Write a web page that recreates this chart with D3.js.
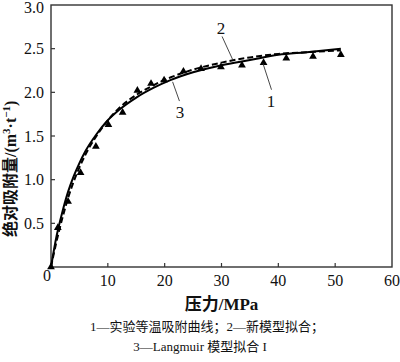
<!DOCTYPE html>
<html>
<head>
<meta charset="utf-8">
<script src="https://cdn.jsdelivr.net/npm/d3@7"></script>
<style>
  body { margin: 0; background: #fff; }
  svg { display: block; }
  text { font-family: "Liberation Serif", "Noto Sans CJK SC", serif; fill: #111; }
</style>
</head>
<body>
<script>
// experimental isotherm (triangles)
const expP = [0, 1.2, 3.0, 5.2, 7.9, 10.1, 12.6, 15.2, 17.6, 19.9, 23.3, 26.4, 29.9, 33.6, 37.4, 41.4, 46.1, 51];
const expV = [0, 0.45, 0.75, 1.08, 1.38, 1.63, 1.77, 2.02, 2.10, 2.14, 2.24, 2.27, 2.29, 2.31, 2.34, 2.39, 2.41, 2.43];

// fitted curves
const fitP = [0, 1, 2, 3, 4, 5, 6, 8, 10, 12, 15, 18, 21, 25, 30, 35, 40, 45, 51];
const newV = [0, 0.30, 0.56, 0.79, 0.98, 1.14, 1.28, 1.50, 1.68, 1.82, 1.97, 2.08, 2.17, 2.26, 2.34, 2.40, 2.44, 2.46, 2.48];
const langV = [0, 0.36, 0.63, 0.86, 1.04, 1.19, 1.32, 1.52, 1.68, 1.80, 1.94, 2.05, 2.14, 2.23, 2.31, 2.37, 2.43, 2.46, 2.50];

const xTicks = [10, 20, 30, 40, 50, 60];
const yTicks = [0.5, 1.0, 1.5, 2.0, 2.5, 3.0];

// curve labels: [text, labelX, labelY, lineFromX, lineFromY, lineToX, lineToY] in data units
const labels = [
  ["2", 29.9, 2.74, 30.1, 2.64, 32.0, 2.37],
  ["1", 38.7, 1.90, 38.8, 2.03, 37.3, 2.33],
  ["3", 22.7, 1.78, 22.6, 1.90, 21.4, 2.12]
];

const W = 400, H = 362;
const m = { left: 51, top: 5, right: 8, bottom: 95 };

const svg = d3.select("body").append("svg").attr("width", W).attr("height", H);

const x = d3.scaleLinear().domain([0, 60]).range([m.left, W - m.right]);
const y = d3.scaleLinear().domain([0, 3]).range([H - m.bottom, m.top]);

// frame
svg.append("rect")
  .attr("x", x(0)).attr("y", y(3))
  .attr("width", x(60) - x(0)).attr("height", y(0) - y(3))
  .attr("fill", "none").attr("stroke", "#333").attr("stroke-width", 1.4);

// inward ticks
svg.selectAll(".xt").data(xTicks.slice(0, -1)).enter().append("line")
  .attr("x1", d => x(d)).attr("x2", d => x(d))
  .attr("y1", y(0)).attr("y2", y(0) - 4)
  .attr("stroke", "#333").attr("stroke-width", 1.2);
svg.selectAll(".yt").data(yTicks.slice(0, -1)).enter().append("line")
  .attr("x1", x(0)).attr("x2", x(0) + 4)
  .attr("y1", d => y(d)).attr("y2", d => y(d))
  .attr("stroke", "#333").attr("stroke-width", 1.2);

// tick labels
svg.selectAll(".xl").data(xTicks).enter().append("text")
  .attr("x", d => x(d)).attr("y", y(0) + 19)
  .attr("text-anchor", "middle").style("font-size", "16px")
  .text(d => d);
svg.append("text")
  .attr("x", x(0) - 4).attr("y", y(0) + 14)
  .attr("text-anchor", "middle").style("font-size", "16px")
  .text("0");
// top label sits a little lower so it is not cut by the edge
svg.selectAll(".yl").data(yTicks).enter().append("text")
  .attr("x", x(0) - 7).attr("y", d => Math.max(y(d) + 5.5, 13))
  .attr("text-anchor", "end").style("font-size", "16px")
  .text(d => d.toFixed(1));

// lines
const line = d3.line().curve(d3.curveMonotoneX).x(d => x(d[0])).y(d => y(d[1]));

svg.append("path")
  .datum(fitP.map((p, i) => [p, langV[i]]))
  .attr("d", line).attr("fill", "none")
  .attr("stroke", "#000").attr("stroke-width", 2);

svg.append("path")
  .datum(fitP.map((p, i) => [p, newV[i]]))
  .attr("d", line).attr("fill", "none")
  .attr("stroke", "#000").attr("stroke-width", 2)
  .attr("stroke-dasharray", "6,3");

// triangles
svg.selectAll(".pt").data(expP.map((p, i) => [p, expV[i]])).enter().append("path")
  .attr("d", d3.symbol().type(d3.symbolTriangle).size(26))
  .attr("transform", d => `translate(${x(d[0])},${y(d[1])})`)
  .attr("fill", "#000");

// leader labels
labels.forEach(l => {
  svg.append("line")
    .attr("x1", x(l[3])).attr("y1", y(l[4]))
    .attr("x2", x(l[5])).attr("y2", y(l[6]))
    .attr("stroke", "#333").attr("stroke-width", 0.9);
  svg.append("text")
    .attr("x", x(l[1])).attr("y", y(l[2]) + 6)
    .attr("text-anchor", "middle").style("font-size", "17px")
    .text(l[0]);
});

// axis titles
svg.append("text")
  .attr("x", (x(0) + x(60)) / 2).attr("y", 310)
  .attr("text-anchor", "middle").style("font-size", "17px").style("font-weight", "bold")
  .text("压力/MPa");

const yt = svg.append("text")
  .attr("transform", "translate(16,237) rotate(-90)")
  .attr("text-anchor", "start").style("font-size", "16px").style("font-weight", "bold");
yt.append("tspan").text("绝对吸附量/(m");
yt.append("tspan").attr("dy", -6).style("font-size", "11px").text("3");
yt.append("tspan").attr("dy", 6).text("·t");
yt.append("tspan").attr("dy", -6).style("font-size", "11px").text("−1");
yt.append("tspan").attr("dy", 6).text(")");

// caption
svg.append("text")
  .attr("x", 207).attr("y", 331)
  .attr("text-anchor", "middle").style("font-size", "13px")
  .text("1—实验等温吸附曲线；2—新模型拟合；");
svg.append("text")
  .attr("x", 200).attr("y", 351)
  .attr("text-anchor", "middle").style("font-size", "13px")
  .text("3—Langmuir 模型拟合 I");
</script>
</body>
</html>
